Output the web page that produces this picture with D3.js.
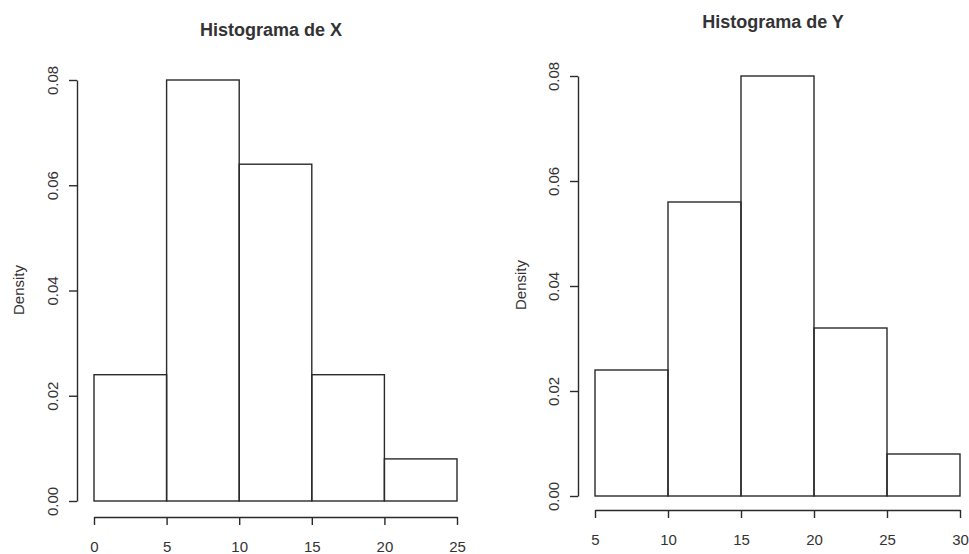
<!DOCTYPE html>
<html>
<head>
<meta charset="utf-8">
<script src="https://cdn.jsdelivr.net/npm/d3@7"></script>
<style>
  body { margin: 0; background: #fff; }
  svg { display: block; }
  text { font-family: "Liberation Sans", Arial, sans-serif; fill: #333; }
</style>
</head>
<body>
<svg width="969" height="554"></svg>
<script>
// histogram data
var breaksX = [0, 5, 10, 15, 20, 25];
var densityX = [0.024, 0.080, 0.064, 0.024, 0.008];
var breaksY = [5, 10, 15, 20, 25, 30];
var densityY = [0.024, 0.056, 0.080, 0.032, 0.008];
var densityTicks = [0, 0.02, 0.04, 0.06, 0.08];
var titles = ['Histograma de X', 'Histograma de Y'];

var svg = d3.select('svg');
var ink = '#2a2a2a';

var panels = [
  { title: titles[0], breaks: breaksX, dens: densityX,
    xr: [94, 457], yr: [501, 80], axisX: 77, axisY: 517, titleX: 271, titleY: 36, labX: 24, labY: 290 },
  { title: titles[1], breaks: breaksY, dens: densityY,
    xr: [595, 960], yr: [496, 76], axisX: 578, axisY: 510, titleX: 773, titleY: 28, labX: 526, labY: 285 }
];

panels.forEach(function(p) {
  var x = d3.scaleLinear()
    .domain([p.breaks[0], p.breaks[p.breaks.length - 1]])
    .range(p.xr);
  var y = d3.scaleLinear().domain([0, 0.08]).range(p.yr);

  var bins = p.dens.map(function(d, i) {
    return { x0: p.breaks[i], x1: p.breaks[i + 1], d: d };
  });

  var g = svg.append('g');

  // bars
  g.selectAll('rect.bar')
    .data(bins).enter().append('rect')
    .attr('class', 'bar')
    .attr('x', function(b) { return x(b.x0); })
    .attr('y', function(b) { return y(b.d); })
    .attr('width', function(b) { return x(b.x1) - x(b.x0); })
    .attr('height', function(b) { return y(0) - y(b.d); })
    .attr('fill', 'none')
    .attr('stroke', ink)
    .attr('stroke-width', 1.4);

  // y axis, labels parallel to axis like R
  var ya = g.append('g')
    .attr('transform', 'translate(' + p.axisX + ',0)')
    .call(d3.axisLeft(y).tickValues(densityTicks).tickSize(8).tickSizeOuter(0)
      .tickFormat(d3.format('.2f')));
  ya.selectAll('text')
    .attr('x', null).attr('dy', null)
    .attr('transform', 'translate(-19,0) rotate(-90)')
    .attr('text-anchor', 'middle')
    .style('font-size', '15px');

  // x axis, offset below the bars
  var xa = g.append('g')
    .attr('transform', 'translate(0,' + p.axisY + ')')
    .call(d3.axisBottom(x).tickValues(p.breaks).tickSize(8).tickSizeOuter(0));
  xa.selectAll('text')
    .attr('y', 35).attr('dy', null)
    .style('font-size', '15px');

  [ya, xa].forEach(function(a) {
    a.selectAll('path, line').attr('stroke', ink).attr('stroke-width', 1.4);
    a.selectAll('text').attr('fill', '#333').style('font-family', '"Liberation Sans", Arial, sans-serif');
  });

  g.append('text')
    .attr('x', p.titleX).attr('y', p.titleY)
    .attr('text-anchor', 'middle')
    .style('font-size', '18px').style('font-weight', 'bold')
    .text(p.title);

  g.append('text')
    .attr('transform', 'translate(' + p.labX + ',' + p.labY + ') rotate(-90)')
    .attr('text-anchor', 'middle')
    .style('font-size', '15px')
    .text('Density');
});
</script>
</body>
</html>
